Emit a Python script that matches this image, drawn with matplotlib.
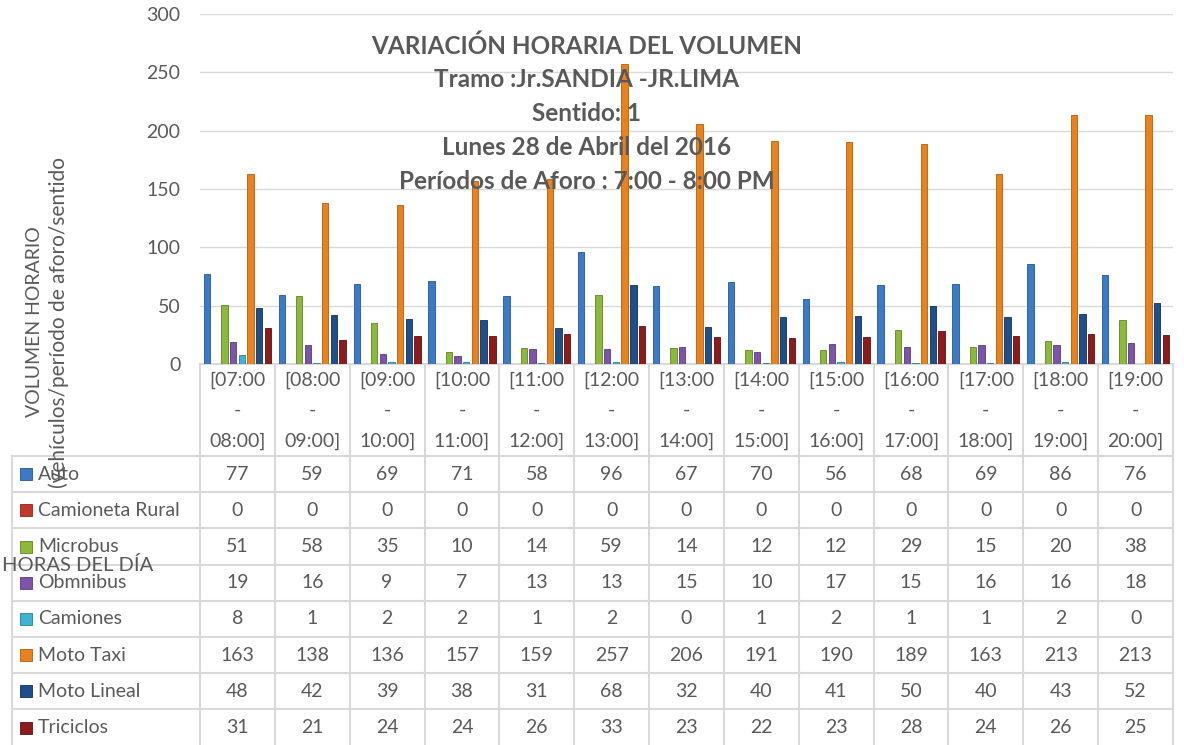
import matplotlib
matplotlib.use("Agg")
import matplotlib.pyplot as plt
import numpy as np

plt.rcParams['font.family'] = ['Lato', 'DejaVu Sans']

categories = ["[07:00\n-\n08:00]", "[08:00\n-\n09:00]", "[09:00\n-\n10:00]", "[10:00\n-\n11:00]",
              "[11:00\n-\n12:00]", "[12:00\n-\n13:00]", "[13:00\n-\n14:00]", "[14:00\n-\n15:00]",
              "[15:00\n-\n16:00]", "[16:00\n-\n17:00]", "[17:00\n-\n18:00]", "[18:00\n-\n19:00]",
              "[19:00\n-\n20:00]"]

series_names = ["Auto", "Camioneta Rural", "Microbus", "Obmnibus", "Camiones",
                "Moto Taxi", "Moto Lineal", "Triciclos"]

auto = [77, 59, 69, 71, 58, 96, 67, 70, 56, 68, 69, 86, 76]
camioneta_rural = [0, 0, 0, 0, 0, 0, 0, 0, 0, 0, 0, 0, 0]
microbus = [51, 58, 35, 10, 14, 59, 14, 12, 12, 29, 15, 20, 38]
obmnibus = [19, 16, 9, 7, 13, 13, 15, 10, 17, 15, 16, 16, 18]
camiones = [8, 1, 2, 2, 1, 2, 0, 1, 2, 1, 1, 2, 0]
moto_taxi = [163, 138, 136, 157, 159, 257, 206, 191, 190, 189, 163, 213, 213]
moto_lineal = [48, 42, 39, 38, 31, 68, 32, 40, 41, 50, 40, 43, 52]
triciclos = [31, 21, 24, 24, 26, 33, 23, 22, 23, 28, 24, 26, 25]

series_values = [auto, camioneta_rural, microbus, obmnibus, camiones,
                 moto_taxi, moto_lineal, triciclos]

colors = ['#3b7bc6', '#c0392b', '#8cb83c', '#7d55a8', '#3fb3d1',
          '#e8821e', '#1f4f8a', '#8c1c1c']
edge_colors = ['#24569a', '#8e2219', '#5f8226', '#573a7a', '#25809a',
               '#b35c0c', '#112f58', '#5c0f0f']

title_lines = ["VARIACIÓN HORARIA DEL VOLUMEN", "Tramo :Jr.SANDIA -JR.LIMA", "Sentido: 1",
               "Lunes 28 de Abril del 2016", "Períodos de Aforo : 7:00 - 8:00 PM"]

W, H = 1184, 745
fig = plt.figure(figsize=(W / 100, H / 100), dpi=100)
TXT = '#595959'
GRID = '#d9d9d9'
FS = 14

x_left, x_right = 200, 1173
y_top, y_bot = 14, 364
ax = fig.add_axes([x_left / W, 1 - y_bot / H, (x_right - x_left) / W, (y_bot - y_top) / H])
ax.set_xlim(-0.5, len(categories) - 0.5)
ax.set_ylim(0, 300)
ax.set_yticks(np.arange(0, 301, 50))
ax.yaxis.grid(True, color=GRID, lw=1)
ax.set_axisbelow(True)
for s in ['top', 'right', 'left']:
    ax.spines[s].set_visible(False)
ax.spines['bottom'].set_color(GRID)
ax.spines['bottom'].set_linewidth(1.5)
ax.tick_params(axis='y', length=0, labelsize=FS, labelcolor=TXT, pad=14)
ax.tick_params(axis='x', length=0, labelbottom=False)

x = np.arange(len(categories))
slot = 0.116
bw = 0.085
n = len(series_values)
for i, (vals, c, ec) in enumerate(zip(series_values, colors, edge_colors)):
    ax.bar(x + (i - (n - 1) / 2) * slot, vals, width=bw, color=c, edgecolor=ec,
           linewidth=0.6, zorder=3)

# title inside plot area
for k, line in enumerate(title_lines):
    fig.text(587 / W, 1 - (46 + 33.8 * k) / H, line, ha='center', va='center',
             fontsize=17.5, fontweight='bold', color=TXT, zorder=1)

# axis label
fig.text(35 / W, 1 - 322 / H, "VOLUMEN HORARIO", rotation=90, ha='center', va='center',
         fontsize=FS, color=TXT)
fig.text(59 / W, 1 - 322 / H, "(vehículos/período de aforo/sentido", rotation=90,
         ha='center', va='center', fontsize=15, color=TXT)

# data table
def fx(px):
    return px / W

def fy(py):
    return 1 - py / H

col_w = (x_right - x_left) / len(categories)
hdr_bot = 456
row_h = 36.2
tab_left = 12

lines_kw = dict(color=GRID, lw=1.5, transform=fig.transFigure, zorder=0)
for k in range(len(categories) + 1):
    xx = x_left + k * col_w
    fig.add_artist(plt.Line2D([fx(xx), fx(xx)], [fy(y_bot), fy(H)], **lines_kw))
fig.add_artist(plt.Line2D([fx(tab_left), fx(tab_left)], [fy(hdr_bot), fy(H)], **lines_kw))
for r in range(len(series_names)):
    yy = hdr_bot + r * row_h
    fig.add_artist(plt.Line2D([fx(tab_left), fx(x_right)], [fy(yy), fy(yy)], **lines_kw))

for j, cat in enumerate(categories):
    cx = x_left + (j + 0.5) * col_w
    parts = cat.split("\n")
    for m, p in enumerate(parts):
        fig.text(fx(cx), fy(380 + 30.5 * m), p, ha='center', va='center',
                 fontsize=FS, color=TXT)

for r, (name, vals) in enumerate(zip(series_names, series_values)):
    cy = hdr_bot + (r + 0.5) * row_h
    fig.add_artist(plt.Rectangle((fx(20), fy(cy + 6)), 12 / W, 12 / H, facecolor=colors[r],
                                 edgecolor=edge_colors[r], lw=0.6, transform=fig.transFigure))
    fig.text(fx(38), fy(cy), name, ha='left', va='center', fontsize=FS, color=TXT)
    for j, v in enumerate(vals):
        cx = x_left + (j + 0.5) * col_w
        fig.text(fx(cx), fy(cy), str(v), ha='center', va='center', fontsize=FS, color=TXT)

fig.text(fx(78), fy(565), "HORAS DEL DÍA", ha='center', va='center', fontsize=14.5, color=TXT)

fig.savefig("out.png", dpi=100)
